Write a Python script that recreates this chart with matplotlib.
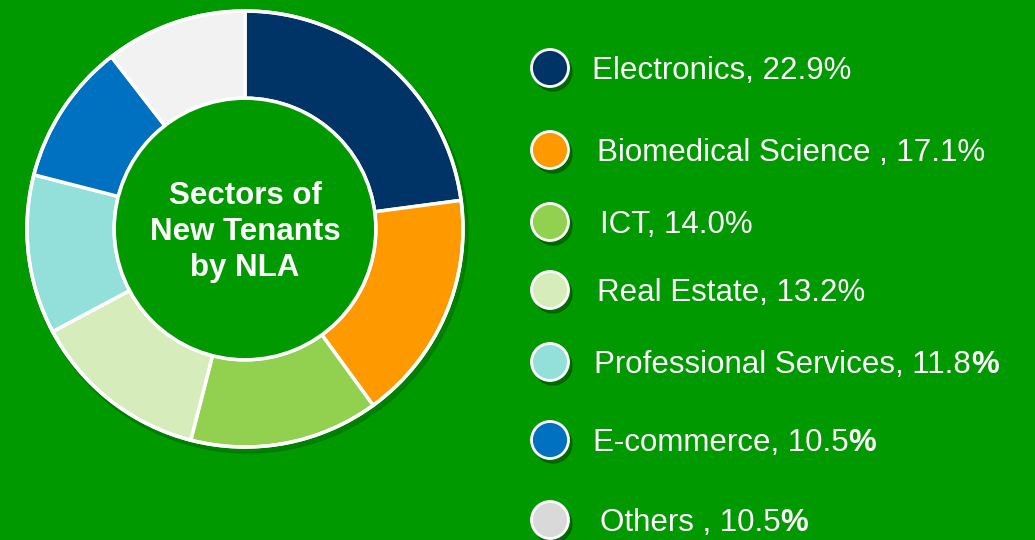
import matplotlib.pyplot as plt
from matplotlib.patches import Circle

plt.rcParams['font.family'] = ['Liberation Sans', 'DejaVu Sans']

sectors = ['Electronics', 'Biomedical Science ', 'ICT', 'Real Estate',
           'Professional Services', 'E-commerce', 'Others ']
shares = [22.9, 17.1, 14.0, 13.2, 11.8, 10.5, 10.5]
wedge_colors = ['#003366', '#FF9900', '#92D050', '#D6EDBB',
                '#93E0DB', '#0070C0', '#F2F2F2']
legend_colors = ['#003366', '#FF9900', '#92D050', '#D6EDBB',
                 '#93E0DB', '#0070C0', '#D9D9D9']
bold_pct = [False, False, False, False, True, True, True]

BG = '#009900'
W, H = 1035, 540

fig = plt.figure(figsize=(W / 100, H / 100), dpi=100, facecolor=BG)
ax = fig.add_axes([0, 0, 1, 1])
ax.set_facecolor(BG)

# donut (pixel coords, y measured from the bottom)
cx, cy, r = 245, H - 229, 218
ax.add_patch(Circle((cx + 3, cy - 4), r + 2, color='#006400', alpha=0.45, zorder=0))
ax.pie(shares, colors=wedge_colors, startangle=90, counterclock=False,
       center=(cx, cy), radius=r, frame=True,
       wedgeprops=dict(width=r * 0.4, edgecolor='white', linewidth=2.5))
ax.add_patch(Circle((cx, cy), r * 0.6, facecolor=BG, edgecolor='white', lw=2.5, zorder=3))
ax.add_patch(Circle((cx, cy), r, facecolor='none', edgecolor='white', lw=2.5, zorder=3))
ax.text(cx, cy - 3, 'Sectors of\nNew Tenants\nby NLA', color='white', fontsize=22.5,
        fontweight='bold', ha='center', va='center', linespacing=1.28, zorder=4)

ax.set_xlim(0, W)
ax.set_ylim(0, H)
ax.set_aspect('equal')
ax.axis('off')

# legend
marker_x = 550
marker_y = [68, 150, 222, 290, 362, 440, 520]
text_x = [592, 597, 600, 597, 594, 593, 600]
renderer = fig.canvas.get_renderer()
for i, name in enumerate(sectors):
    y = H - marker_y[i]
    ax.add_patch(Circle((marker_x + 3, y - 4), 19, color='#004d00', alpha=0.6, zorder=2))
    ax.add_patch(Circle((marker_x, y), 18.5, facecolor=legend_colors[i],
                        edgecolor='white', lw=2, zorder=3))
    num = f'{shares[i]:.1f}'
    ty = y - 3
    if bold_pct[i]:
        t = ax.text(text_x[i], ty, f'{name}, {num}', color='white', fontsize=22.5,
                    ha='left', va='center')
        bb = t.get_window_extent(renderer)
        ax.text(bb.x1, ty, '%', color='white', fontsize=22.5, fontweight='bold',
                ha='left', va='center')
    else:
        ax.text(text_x[i], ty, f'{name}, {num}%', color='white', fontsize=22.5,
                ha='left', va='center')

fig.savefig('out.png', dpi=100, facecolor=BG)
